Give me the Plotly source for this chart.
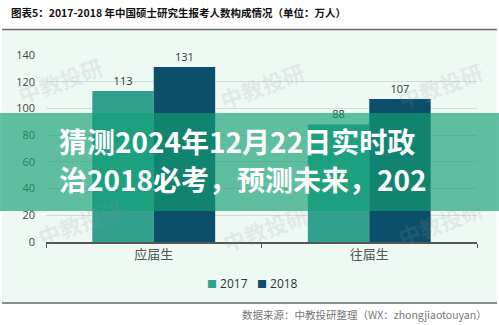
import plotly.graph_objects as go

# 中国硕士研究生报考人数构成（万人）
categories = ["应届生", "往届生"]
years = ["2017", "2018"]
values_2017 = [113, 88]
values_2018 = [131, 107]
y_ticks = [0, 20, 40, 60, 80, 100, 120, 140]

title_text = "图表5：2017-2018 年中国硕士研究生报考人数构成情况（单位：万人）"
banner_lines = ["猜测2024年12月22日实时政", "治2018必考，预测未来，202"]
source_text = "数据来源：中教投研整理（WX：zhongjiaotouyan）"
watermark = "中教投研"

W, H = 499, 325
L, R, T, B = 46, 22, 55, 83

def px_to_paper_x(px):
    return (px - L) / (W - L - R)

def px_to_paper_y(py):
    return (H - B - py) / (H - T - B)

colors = {"2017": "#31a08f", "2018": "#0c4f6b"}
series = {"2017": values_2017, "2018": values_2018}

fig = go.Figure()
for yr in years:
    fig.add_trace(go.Bar(
        name=yr, x=categories, y=series[yr],
        marker=dict(color=colors[yr], line=dict(width=0)),
        text=[str(v) for v in series[yr]], textposition="outside",
        textfont=dict(size=11, color="#333333", family="Open Sans, Noto Sans CJK SC"),
        cliponaxis=False, showlegend=False,
    ))

shapes = [
    # light panel behind the chart
    dict(type="rect", xref="paper", yref="paper",
         x0=px_to_paper_x(2), x1=px_to_paper_x(497),
         y0=px_to_paper_y(303), y1=px_to_paper_y(30),
         fillcolor="#eef9f4", line=dict(width=0), layer="below"),
    # top and bottom rules
    dict(type="line", xref="paper", yref="paper",
         x0=px_to_paper_x(2), x1=px_to_paper_x(497),
         y0=px_to_paper_y(29.5), y1=px_to_paper_y(29.5),
         line=dict(color="#6a6a6a", width=1.5)),
    dict(type="line", xref="paper", yref="paper",
         x0=px_to_paper_x(2), x1=px_to_paper_x(497),
         y0=px_to_paper_y(303), y1=px_to_paper_y(303),
         line=dict(color="#6a6a6a", width=1.5)),
    # green banner across the chart
    dict(type="rect", xref="paper", yref="paper",
         x0=px_to_paper_x(0), x1=px_to_paper_x(499),
         y0=px_to_paper_y(211), y1=px_to_paper_y(113),
         fillcolor="rgba(20,160,115,0.66)", line=dict(width=0), layer="above"),
]

annotations = [
    dict(text=title_text, xref="paper", yref="paper",
         x=px_to_paper_x(9), y=px_to_paper_y(12.5), xanchor="left", yanchor="middle",
         showarrow=False,
         font=dict(size=10.5, color="#111111", family="Noto Sans CJK SC", weight="bold")),
    dict(text=source_text, xref="paper", yref="paper",
         x=px_to_paper_x(489), y=px_to_paper_y(314), xanchor="right", yanchor="middle",
         showarrow=False,
         font=dict(size=10.5, color="#777777", family="Noto Sans CJK SC")),
]

# compact legend: small coloured squares followed by the year
legend_text = "   ".join(
    f"<span style='color:{colors[yr]};font-size:10px'>■</span> {yr}" for yr in years)
annotations.append(dict(
    text=legend_text, xref="paper", yref="paper",
    x=px_to_paper_x(252), y=px_to_paper_y(283), xanchor="center", yanchor="middle",
    showarrow=False,
    font=dict(size=12, color="#333333", family="Open Sans, Noto Sans CJK SC")))

for cx, cy in [(60, 80), (262, 85), (440, 85), (80, 222), (265, 228), (440, 222)]:
    annotations.append(dict(
        text=watermark, xref="paper", yref="paper",
        x=px_to_paper_x(cx), y=px_to_paper_y(cy), xanchor="center", yanchor="middle",
        showarrow=False, textangle=-20,
        font=dict(size=22, color="rgba(150,150,150,0.16)", family="Noto Sans CJK SC", weight="bold")))

for line, cy in zip(banner_lines, [141, 179]):
    annotations.append(dict(
        text=line, xref="paper", yref="paper",
        x=px_to_paper_x(57), y=px_to_paper_y(cy), xanchor="left", yanchor="middle",
        showarrow=False,
        font=dict(size=28, color="#ffffff", family="Noto Sans CJK SC", weight="bold")))

fig.update_layout(
    width=W, height=H,
    margin=dict(l=L, r=R, t=T, b=B),
    paper_bgcolor="#ffffff", plot_bgcolor="rgba(0,0,0,0)",
    barmode="group", bargap=0.43, bargroupgap=0,
    showlegend=False,
    xaxis=dict(showline=True, linecolor="#555555", linewidth=1.5,
               ticks="outside", tickson="boundaries", ticklen=4, tickcolor="#555555",
               tickfont=dict(size=13, color="#555555", family="Noto Sans CJK SC"),
               showgrid=False),
    yaxis=dict(range=[0, 140], tickvals=y_ticks, showgrid=True,
               gridcolor="#cfded8", gridwidth=1, zeroline=False,
               tickfont=dict(size=11, color="#444444", family="Open Sans"),
               ticks="", ticklabelstandoff=10),
    shapes=shapes, annotations=annotations,
)

fig.write_html("out.html")
